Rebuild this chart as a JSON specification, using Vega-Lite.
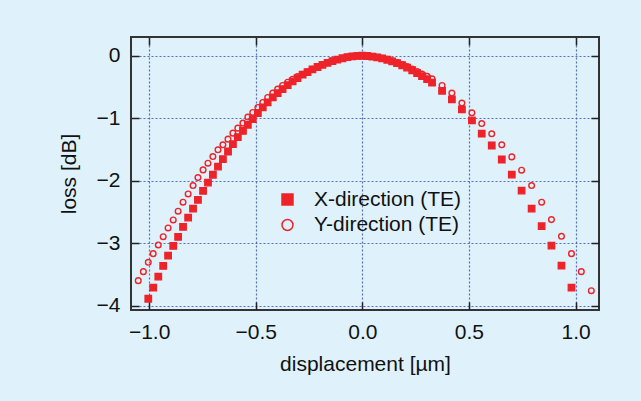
{
  "$schema": "https://vega.github.io/schema/vega-lite/v6.json",
  "width": 468,
  "height": 273,
  "autosize": {"type": "none"},
  "padding": {"left": 131, "top": 37, "right": 42, "bottom": 91},
  "background": "#dff1fb",
  "config": {
    "view": {"stroke": "#333333", "strokeWidth": 2, "fill": null},
    "font": "Liberation Sans",
    "axis": {
      "labelFont": "Liberation Sans",
      "labelFontSize": 21,
      "labelColor": "#111111",
      "titleFont": "Liberation Sans",
      "titleFontSize": 21,
      "titleFontWeight": "normal",
      "titleColor": "#111111",
      "tickColor": "#222222",
      "tickWidth": 1.5,
      "tickSize": -8,
      "labelPadding": 19,
      "domain": false,
      "gridColor": "#4d5fb3",
      "gridDash": [2, 2],
      "gridWidth": 1.2,
      "gridOpacity": 0.9
    },
    "legend": {
      "labelFont": "Liberation Sans",
      "labelFontSize": 21,
      "labelColor": "#111111",
      "symbolSize": 120,
      "symbolStrokeWidth": 1.5,
      "rowPadding": 3.5,
      "labelOffset": 16,
      "padding": 0
    }
  },
  "datasets": {
    "pts": [
      {"d": -1.051, "loss": -3.600, "s": "Y-direction (TE)"},
      {"d": -1.027, "loss": -3.456, "s": "Y-direction (TE)"},
      {"d": -1.004, "loss": -3.306, "s": "Y-direction (TE)"},
      {"d": -0.981, "loss": -3.168, "s": "Y-direction (TE)"},
      {"d": -0.957, "loss": -3.029, "s": "Y-direction (TE)"},
      {"d": -0.934, "loss": -2.896, "s": "Y-direction (TE)"},
      {"d": -0.911, "loss": -2.756, "s": "Y-direction (TE)"},
      {"d": -0.887, "loss": -2.628, "s": "Y-direction (TE)"},
      {"d": -0.864, "loss": -2.489, "s": "Y-direction (TE)"},
      {"d": -0.841, "loss": -2.345, "s": "Y-direction (TE)"},
      {"d": -0.817, "loss": -2.212, "s": "Y-direction (TE)"},
      {"d": -0.794, "loss": -2.078, "s": "Y-direction (TE)"},
      {"d": -0.771, "loss": -1.950, "s": "Y-direction (TE)"},
      {"d": -0.747, "loss": -1.827, "s": "Y-direction (TE)"},
      {"d": -0.724, "loss": -1.720, "s": "Y-direction (TE)"},
      {"d": -0.701, "loss": -1.613, "s": "Y-direction (TE)"},
      {"d": -0.677, "loss": -1.506, "s": "Y-direction (TE)"},
      {"d": -0.654, "loss": -1.426, "s": "Y-direction (TE)"},
      {"d": -0.630, "loss": -1.335, "s": "Y-direction (TE)"},
      {"d": -0.607, "loss": -1.239, "s": "Y-direction (TE)"},
      {"d": -0.584, "loss": -1.159, "s": "Y-direction (TE)"},
      {"d": -0.560, "loss": -1.079, "s": "Y-direction (TE)"},
      {"d": -0.537, "loss": -0.982, "s": "Y-direction (TE)"},
      {"d": -0.514, "loss": -0.908, "s": "Y-direction (TE)"},
      {"d": -0.490, "loss": -0.828, "s": "Y-direction (TE)"},
      {"d": -0.467, "loss": -0.748, "s": "Y-direction (TE)"},
      {"d": -0.444, "loss": -0.668, "s": "Y-direction (TE)"},
      {"d": -0.420, "loss": -0.598, "s": "Y-direction (TE)"},
      {"d": -0.397, "loss": -0.534, "s": "Y-direction (TE)"},
      {"d": -0.374, "loss": -0.476, "s": "Y-direction (TE)"},
      {"d": -0.350, "loss": -0.423, "s": "Y-direction (TE)"},
      {"d": -0.327, "loss": -0.375, "s": "Y-direction (TE)"},
      {"d": -0.304, "loss": -0.332, "s": "Y-direction (TE)"},
      {"d": -0.280, "loss": -0.295, "s": "Y-direction (TE)"},
      {"d": -0.257, "loss": -0.258, "s": "Y-direction (TE)"},
      {"d": -0.234, "loss": -0.215, "s": "Y-direction (TE)"},
      {"d": -0.210, "loss": -0.177, "s": "Y-direction (TE)"},
      {"d": -0.187, "loss": -0.142, "s": "Y-direction (TE)"},
      {"d": -0.163, "loss": -0.110, "s": "Y-direction (TE)"},
      {"d": -0.140, "loss": -0.083, "s": "Y-direction (TE)"},
      {"d": -0.117, "loss": -0.059, "s": "Y-direction (TE)"},
      {"d": -0.093, "loss": -0.039, "s": "Y-direction (TE)"},
      {"d": -0.070, "loss": -0.022, "s": "Y-direction (TE)"},
      {"d": -0.047, "loss": -0.010, "s": "Y-direction (TE)"},
      {"d": -0.023, "loss": -0.003, "s": "Y-direction (TE)"},
      {"d": 0.000, "loss": 0.000, "s": "Y-direction (TE)"},
      {"d": 0.023, "loss": -0.003, "s": "Y-direction (TE)"},
      {"d": 0.047, "loss": -0.011, "s": "Y-direction (TE)"},
      {"d": 0.070, "loss": -0.023, "s": "Y-direction (TE)"},
      {"d": 0.093, "loss": -0.039, "s": "Y-direction (TE)"},
      {"d": 0.117, "loss": -0.058, "s": "Y-direction (TE)"},
      {"d": 0.140, "loss": -0.081, "s": "Y-direction (TE)"},
      {"d": 0.163, "loss": -0.108, "s": "Y-direction (TE)"},
      {"d": 0.187, "loss": -0.139, "s": "Y-direction (TE)"},
      {"d": 0.210, "loss": -0.173, "s": "Y-direction (TE)"},
      {"d": 0.234, "loss": -0.211, "s": "Y-direction (TE)"},
      {"d": 0.257, "loss": -0.252, "s": "Y-direction (TE)"},
      {"d": 0.280, "loss": -0.294, "s": "Y-direction (TE)"},
      {"d": 0.304, "loss": -0.330, "s": "Y-direction (TE)"},
      {"d": 0.327, "loss": -0.369, "s": "Y-direction (TE)"},
      {"d": 0.374, "loss": -0.475, "s": "Y-direction (TE)"},
      {"d": 0.420, "loss": -0.598, "s": "Y-direction (TE)"},
      {"d": 0.467, "loss": -0.758, "s": "Y-direction (TE)"},
      {"d": 0.514, "loss": -0.913, "s": "Y-direction (TE)"},
      {"d": 0.560, "loss": -1.085, "s": "Y-direction (TE)"},
      {"d": 0.607, "loss": -1.250, "s": "Y-direction (TE)"},
      {"d": 0.654, "loss": -1.426, "s": "Y-direction (TE)"},
      {"d": 0.701, "loss": -1.619, "s": "Y-direction (TE)"},
      {"d": 0.747, "loss": -1.832, "s": "Y-direction (TE)"},
      {"d": 0.794, "loss": -2.078, "s": "Y-direction (TE)"},
      {"d": 0.841, "loss": -2.345, "s": "Y-direction (TE)"},
      {"d": 0.887, "loss": -2.623, "s": "Y-direction (TE)"},
      {"d": 0.934, "loss": -2.890, "s": "Y-direction (TE)"},
      {"d": 0.981, "loss": -3.168, "s": "Y-direction (TE)"},
      {"d": 1.027, "loss": -3.456, "s": "Y-direction (TE)"},
      {"d": 1.074, "loss": -3.761, "s": "Y-direction (TE)"},
      {"d": -1.004, "loss": -3.890, "s": "X-direction (TE)"},
      {"d": -0.981, "loss": -3.713, "s": "X-direction (TE)"},
      {"d": -0.957, "loss": -3.536, "s": "X-direction (TE)"},
      {"d": -0.934, "loss": -3.365, "s": "X-direction (TE)"},
      {"d": -0.911, "loss": -3.200, "s": "X-direction (TE)"},
      {"d": -0.887, "loss": -3.045, "s": "X-direction (TE)"},
      {"d": -0.864, "loss": -2.901, "s": "X-direction (TE)"},
      {"d": -0.841, "loss": -2.740, "s": "X-direction (TE)"},
      {"d": -0.817, "loss": -2.591, "s": "X-direction (TE)"},
      {"d": -0.794, "loss": -2.447, "s": "X-direction (TE)"},
      {"d": -0.771, "loss": -2.308, "s": "X-direction (TE)"},
      {"d": -0.747, "loss": -2.163, "s": "X-direction (TE)"},
      {"d": -0.724, "loss": -2.030, "s": "X-direction (TE)"},
      {"d": -0.701, "loss": -1.905, "s": "X-direction (TE)"},
      {"d": -0.677, "loss": -1.774, "s": "X-direction (TE)"},
      {"d": -0.654, "loss": -1.656, "s": "X-direction (TE)"},
      {"d": -0.630, "loss": -1.533, "s": "X-direction (TE)"},
      {"d": -0.607, "loss": -1.415, "s": "X-direction (TE)"},
      {"d": -0.584, "loss": -1.303, "s": "X-direction (TE)"},
      {"d": -0.560, "loss": -1.202, "s": "X-direction (TE)"},
      {"d": -0.537, "loss": -1.106, "s": "X-direction (TE)"},
      {"d": -0.514, "loss": -1.015, "s": "X-direction (TE)"},
      {"d": -0.490, "loss": -0.918, "s": "X-direction (TE)"},
      {"d": -0.467, "loss": -0.828, "s": "X-direction (TE)"},
      {"d": -0.444, "loss": -0.748, "s": "X-direction (TE)"},
      {"d": -0.420, "loss": -0.668, "s": "X-direction (TE)"},
      {"d": -0.397, "loss": -0.598, "s": "X-direction (TE)"},
      {"d": -0.374, "loss": -0.534, "s": "X-direction (TE)"},
      {"d": -0.350, "loss": -0.470, "s": "X-direction (TE)"},
      {"d": -0.327, "loss": -0.412, "s": "X-direction (TE)"},
      {"d": -0.304, "loss": -0.357, "s": "X-direction (TE)"},
      {"d": -0.280, "loss": -0.304, "s": "X-direction (TE)"},
      {"d": -0.257, "loss": -0.261, "s": "X-direction (TE)"},
      {"d": -0.234, "loss": -0.219, "s": "X-direction (TE)"},
      {"d": -0.210, "loss": -0.180, "s": "X-direction (TE)"},
      {"d": -0.187, "loss": -0.145, "s": "X-direction (TE)"},
      {"d": -0.163, "loss": -0.113, "s": "X-direction (TE)"},
      {"d": -0.140, "loss": -0.085, "s": "X-direction (TE)"},
      {"d": -0.117, "loss": -0.061, "s": "X-direction (TE)"},
      {"d": -0.093, "loss": -0.040, "s": "X-direction (TE)"},
      {"d": -0.070, "loss": -0.023, "s": "X-direction (TE)"},
      {"d": -0.047, "loss": -0.010, "s": "X-direction (TE)"},
      {"d": -0.023, "loss": -0.003, "s": "X-direction (TE)"},
      {"d": 0.000, "loss": 0.000, "s": "X-direction (TE)"},
      {"d": 0.023, "loss": -0.004, "s": "X-direction (TE)"},
      {"d": 0.047, "loss": -0.013, "s": "X-direction (TE)"},
      {"d": 0.070, "loss": -0.026, "s": "X-direction (TE)"},
      {"d": 0.093, "loss": -0.043, "s": "X-direction (TE)"},
      {"d": 0.117, "loss": -0.064, "s": "X-direction (TE)"},
      {"d": 0.140, "loss": -0.089, "s": "X-direction (TE)"},
      {"d": 0.163, "loss": -0.118, "s": "X-direction (TE)"},
      {"d": 0.187, "loss": -0.152, "s": "X-direction (TE)"},
      {"d": 0.210, "loss": -0.190, "s": "X-direction (TE)"},
      {"d": 0.234, "loss": -0.232, "s": "X-direction (TE)"},
      {"d": 0.257, "loss": -0.278, "s": "X-direction (TE)"},
      {"d": 0.280, "loss": -0.326, "s": "X-direction (TE)"},
      {"d": 0.304, "loss": -0.376, "s": "X-direction (TE)"},
      {"d": 0.327, "loss": -0.432, "s": "X-direction (TE)"},
      {"d": 0.374, "loss": -0.561, "s": "X-direction (TE)"},
      {"d": 0.420, "loss": -0.700, "s": "X-direction (TE)"},
      {"d": 0.467, "loss": -0.860, "s": "X-direction (TE)"},
      {"d": 0.514, "loss": -1.035, "s": "X-direction (TE)"},
      {"d": 0.560, "loss": -1.245, "s": "X-direction (TE)"},
      {"d": 0.607, "loss": -1.437, "s": "X-direction (TE)"},
      {"d": 0.654, "loss": -1.661, "s": "X-direction (TE)"},
      {"d": 0.701, "loss": -1.902, "s": "X-direction (TE)"},
      {"d": 0.747, "loss": -2.158, "s": "X-direction (TE)"},
      {"d": 0.794, "loss": -2.447, "s": "X-direction (TE)"},
      {"d": 0.841, "loss": -2.729, "s": "X-direction (TE)"},
      {"d": 0.887, "loss": -3.040, "s": "X-direction (TE)"},
      {"d": 0.934, "loss": -3.360, "s": "X-direction (TE)"},
      {"d": 0.981, "loss": -3.713, "s": "X-direction (TE)"}
    ]
  },
  "data": {"name": "pts"},
  "layer": [
    {
      "transform": [{"filter": "datum.s === 'Y-direction (TE)'"}],
      "mark": {"type": "point", "size": 32, "strokeWidth": 1.4, "opacity": 1},
      "encoding": {
        "x": {
          "field": "d", "type": "quantitative",
          "scale": {"domain": [-1.085, 1.11], "nice": false, "zero": false},
          "axis": {"orient": "bottom", "values": [-1, -0.5, 0, 0.5, 1], "format": ".1f", "title": "displacement [µm]", "grid": true, "titlePadding": 11}
        },
        "y": {
          "field": "loss", "type": "quantitative",
          "scale": {"domain": [-4.07, 0.3], "nice": false, "zero": false},
          "axis": {"orient": "left", "values": [0, -1, -2, -3, -4], "format": "d", "title": "loss [dB]", "grid": true, "titlePadding": 17}
        },
        "shape": {
          "field": "s", "type": "nominal",
          "scale": {"domain": ["X-direction (TE)", "Y-direction (TE)"], "range": ["square", "circle"]},
          "legend": {"title": null, "orient": "none", "legendX": 146, "legendY": 152}
        },
        "fill": {
          "field": "s", "type": "nominal",
          "scale": {"domain": ["X-direction (TE)", "Y-direction (TE)"], "range": ["#ee2329", "transparent"]},
          "legend": {"title": null, "orient": "none", "legendX": 146, "legendY": 152}
        },
        "stroke": {
          "field": "s", "type": "nominal",
          "scale": {"domain": ["X-direction (TE)", "Y-direction (TE)"], "range": ["#ee2329", "#ee2329"]},
          "legend": {"title": null, "orient": "none", "legendX": 146, "legendY": 152}
        }
      }
    },
    {
      "transform": [{"filter": "datum.s === 'X-direction (TE)'"}],
      "mark": {"type": "point", "size": 42, "strokeWidth": 1.3, "opacity": 1},
      "encoding": {
        "x": {"field": "d", "type": "quantitative", "axis": null},
        "y": {"field": "loss", "type": "quantitative", "axis": null},
        "shape": {"field": "s", "type": "nominal"},
        "fill": {"field": "s", "type": "nominal"},
        "stroke": {"field": "s", "type": "nominal"}
      }
    },
    {
      "mark": {"type": "point", "opacity": 0},
      "encoding": {
        "x": {
          "field": "d", "type": "quantitative",
          "axis": {"orient": "top", "values": [-1, -0.5, 0, 0.5, 1], "labels": false, "title": null, "grid": false}
        },
        "y": {
          "field": "loss", "type": "quantitative",
          "axis": {"orient": "right", "values": [0, -1, -2, -3, -4], "labels": false, "title": null, "grid": false}
        }
      }
    }
  ],
  "resolve": {"axis": {"x": "independent", "y": "independent"}}
}
